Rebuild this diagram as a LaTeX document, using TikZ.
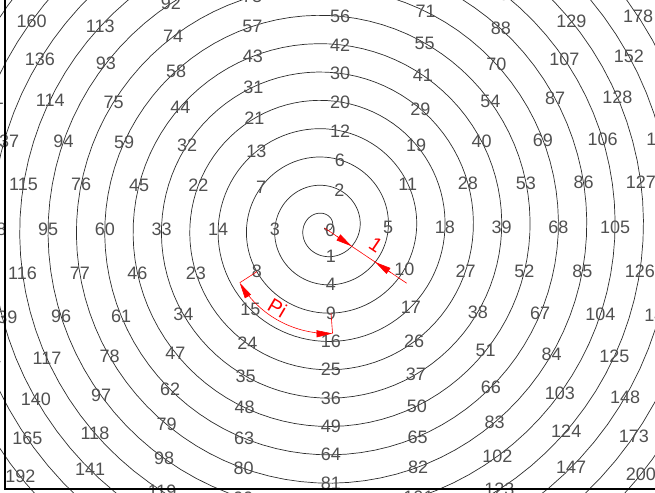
\documentclass[tikz,border=0pt]{standalone}
\usepackage{fontspec}
\setmainfont{Liberation Sans}
\usetikzlibrary{arrows.meta,calc}
\definecolor{numgray}{RGB}{80,80,80}
\definecolor{linegray}{RGB}{45,45,45}
\tikzset{
num/.style={
  text=numgray,
  font=\fontsize{18}{18}\selectfont,
  inner sep=0pt
},
turn/.style={linegray,line width=0.7pt},
dim/.style={red,line width=0.6pt},
dimlabel/.style={text=red,font=\fontsize{20}{20}\selectfont,inner sep=0pt}
}
\newcommand{\turnw}{28.35}

\begin{document}
\begin{tikzpicture}[x=1pt,y=1pt,>={Triangle[length=16pt,width=7pt]}]
  \useasboundingbox (-324.5,-264) rectangle (330.5,228);
  \begin{scope}
  \clip (-324.5,-264) rectangle (330.5,228);
  % spiral, one turn per unit
  \draw[turn] plot[domain=0:15,samples=1500,variable=\t]
    ({\turnw*\t*cos(360*\t-90)},{\turnw*\t*sin(360*\t-90)});
  \coordinate (o) at (0,0);
  \node[num] (n0) at (6,-2) {0};
  \foreach \n in {1,...,230}{
    \pgfmathsetmacro\r{\turnw*sqrt(\n)}
    \pgfmathsetmacro\a{360*sqrt(\n)-90}
    \pgfmathsetmacro\px{\r*cos(\a)-6.5*sin(\a)}
    \pgfmathsetmacro\py{\r*sin(\a)+6.5*cos(\a)}
    \pgfmathtruncatemacro\inside{(abs(\px-3)<342)&&(\py<242)&&(\py>-278)}
    \ifnum\inside=1
      \node[num] (n\n) at (\px,\py) {\n};
    \fi
  }

  % radial step
  \coordinate (r1) at (-33.9:32.8);
  \coordinate (r2) at (-33.9:61.1);
  \coordinate (rend) at (-33.9:99);
  \draw[dim] (o) -- (rend);
  \draw[dim,->] (-33.9:15) -- (r1);
  \draw[dim,->] (-33.9:80) -- (r2);
  \node[dimlabel,rotate=-33.9] (lone) at ($(-33.9:52)+(56.1:14.5)$) {1};

  % arc between 8 and 9
  \coordinate (e8) at ($(n8.center)!-20.4pt!(o)$);
  \coordinate (e9) at ($(n9.center)!-20.4pt!(o)$);
  \draw[dim] (n8.center) -- (e8);
  \draw[dim] (n9.center) -- (e9);
  \draw[dim,<->] plot[domain=212.86:274.37,samples=40,variable=\a]
    ({(\turnw*((\a+90)/360+2)+20.4)*cos(\a)},{(\turnw*((\a+90)/360+2)+20.4)*sin(\a)});
  \node[dimlabel,rotate=-30.5] (lpi) at (239.5:92.5) {Pi};
  \end{scope}

  \draw[line width=1.2pt] (-319.5,228) -- (-319.5,-261) -- (330.5,-261);
\end{tikzpicture}
\end{document}
